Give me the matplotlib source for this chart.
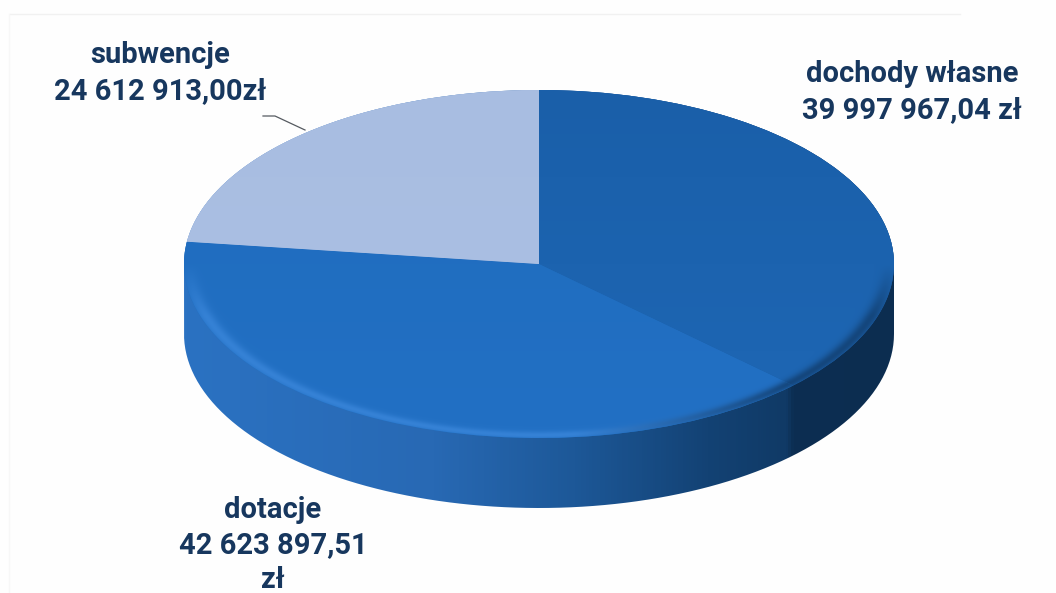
import numpy as np
import matplotlib
matplotlib.use('Agg')
import matplotlib.pyplot as plt
from matplotlib.colors import LinearSegmentedColormap, to_rgb
from matplotlib.path import Path
from matplotlib.patches import PathPatch

labels = ['dochody własne\n39 997 967,04 zł', 'dotacje\n42 623 897,51\nzł', 'subwencje\n24 612 913,00zł']
values = [39997967.04, 42623897.51, 24612913.00]

W, H = 1056, 593
cx, cy, rx, ry = 539, 264, 355, 174
depth = 70 / ry
txt_col = '#17375e'

plt.rcParams['font.family'] = ['Roboto', 'DejaVu Sans']
fig = plt.figure(figsize=(W / 100, H / 100), dpi=100, facecolor='#fefefe')
ax = fig.add_axes([0, 0, 1, 1])

# data units: radius of the pie = 1, squashed by the axis limits
xlim = (-cx / rx, (W - cx) / rx)
ylim = ((cy - H) / ry, cy / ry)
extent = (xlim[0], xlim[1], ylim[0], ylim[1])
xx, yy = np.meshgrid(np.linspace(xlim[0], xlim[1], W), np.linspace(ylim[1], ylim[0], H))
r = np.sqrt(xx ** 2 + yy ** 2)

# side wall
t = np.linspace(0, 2 * np.pi, 400)
top = t[t <= np.pi]
bot = t[t >= np.pi]
wall_x = np.r_[np.cos(top), np.cos(bot)]
wall_y = np.r_[np.sin(top), np.sin(bot) - depth]
wall = PathPatch(Path(np.c_[wall_x, wall_y]), fc='none', ec='none')
ax.add_patch(wall)
wall_cmap = LinearSegmentedColormap.from_list('wall', [
    (0.00, '#2b72c2'), (0.35, '#2869b4'), (0.55, '#1d5898'), (0.74, '#134274'),
    (0.85, '#103a66'), (0.86, '#0c2e52'), (1.00, '#0c2d50')])
im = ax.imshow(np.clip(xx, -1, 1), extent=extent, cmap=wall_cmap, vmin=-1, vmax=1, aspect='auto', zorder=1)
im.set_clip_path(wall)

# top face
wedges, _ = ax.pie(values, startangle=90, counterclock=False, radius=1,
                   colors=['#1b60aa', '#206fc0', '#a9bee2'], wedgeprops={'linewidth': 0, 'zorder': 2})

# faces get a soft gradient, the front half a rounded rim
def face(wedge, c1, c2, rim):
    c1, c2 = np.array(to_rgb(c1)), np.array(to_rgb(c2))
    f = np.clip((yy + 1) / 2, 0, 1)[..., None]
    img = c2 + (c1 - c2) * f
    alpha = np.ones(xx.shape)
    if rim:
        side = np.clip((xx + 1) / 2, 0, 1)[..., None]
        front = np.clip(-yy / 0.3, 0, 1)[..., None]
        edge = np.exp(-((r - 0.985) / 0.022) ** 2)[..., None] * front
        light = np.array(to_rgb('#3a86da'))
        dark = np.array(to_rgb('#123f70'))
        tint = light + (dark - light) * np.clip((side - 0.55) / 0.3, 0, 1)
        img = img + (tint - img) * edge * 0.8
    i = ax.imshow(np.dstack([img, alpha]), extent=extent, aspect='auto', zorder=3)
    i.set_clip_path(wedge)

face(wedges[0], '#1a5fa9', '#1e67b5', True)
face(wedges[1], '#1f6cbd', '#2270c4', True)
face(wedges[2], '#a8bde1', '#acc1e4', False)

ax.set_xlim(*xlim)
ax.set_ylim(*ylim)
ax.set_aspect('auto')
ax.axis('off')

# labels in pixel positions
fig_tr = lambda x, y: (x / W, 1 - y / H)
lab_pos = [(912, 92), (273, 545), (160, 73)]
for lab, (x, y) in zip(labels, lab_pos):
    fx, fy = fig_tr(x, y)
    fig.text(fx, fy, lab, ha='center', va='center', fontsize=21, fontweight='bold',
             color=txt_col, linespacing=1.33, zorder=5)

# leader line and the scan's faint frame
for xs, ys, c, lw in [((263, 275, 305), (116, 116, 130), '#555a60', 0.9),
                      ((10, 960), (14, 14), '#f1f1f1', 1.0),
                      ((9, 9), (14, 593), '#f7f7f7', 1.0)]:
    fig.add_artist(plt.Line2D([a / W for a in xs], [1 - b / H for b in ys], color=c, lw=lw))

fig.savefig('out.png', dpi=100, facecolor=fig.get_facecolor())
